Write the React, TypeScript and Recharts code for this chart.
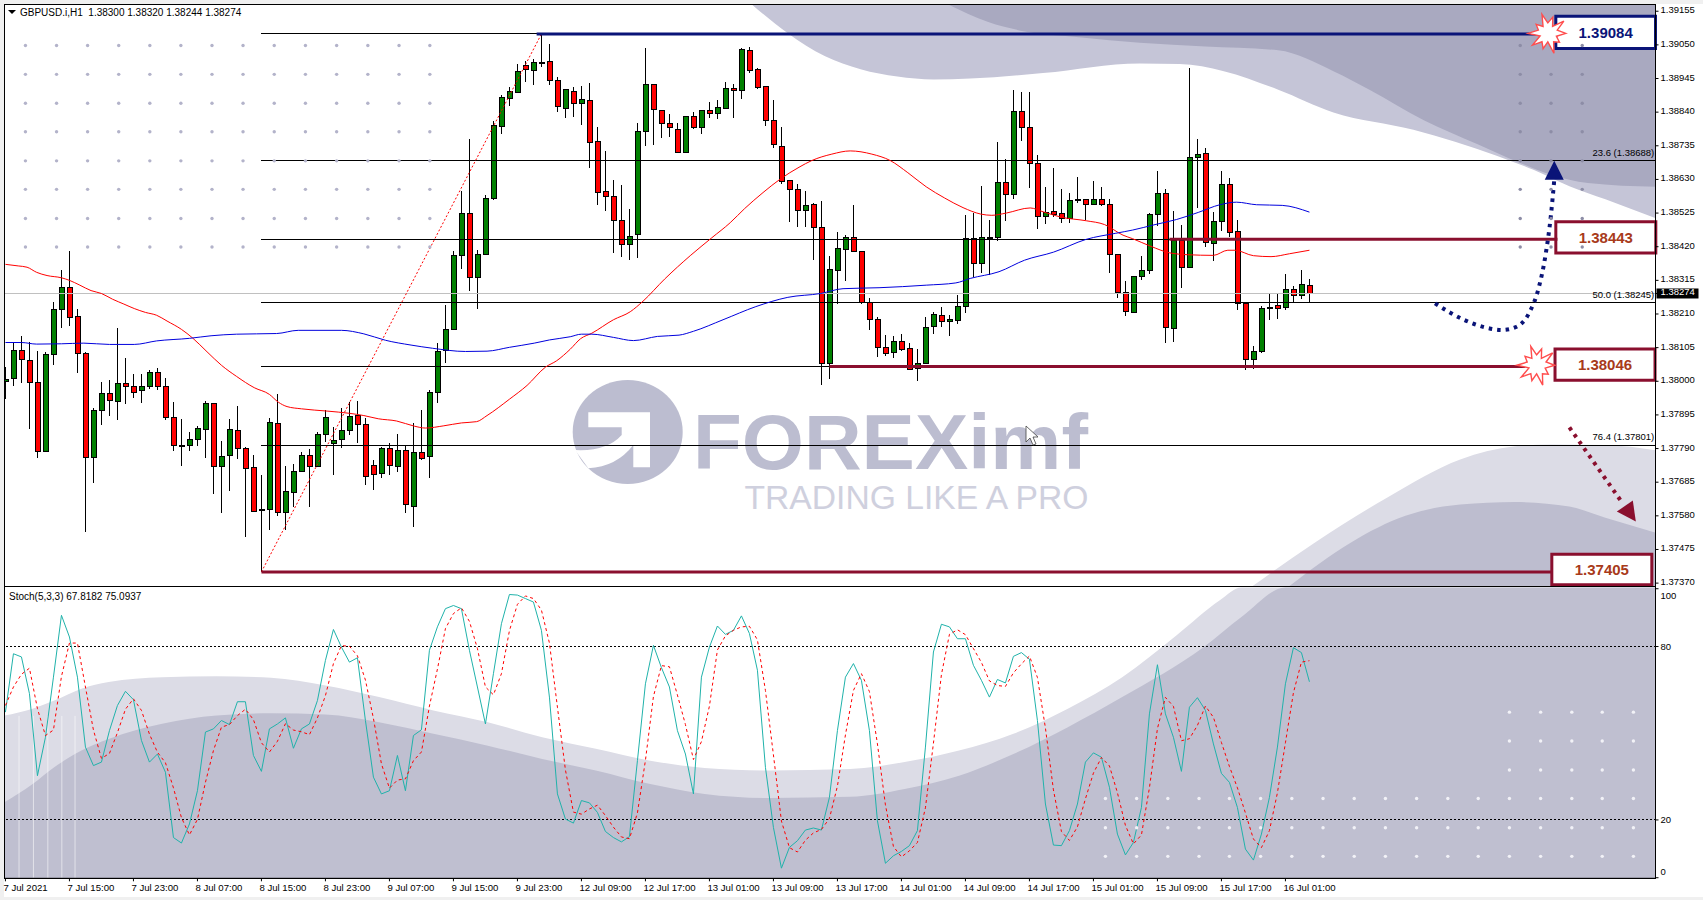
import { Area, Bar, ComposedChart, Line, ReferenceArea, ReferenceDot, ReferenceLine, XAxis, YAxis } from "recharts";

// prices are kept in points (1.38274 -> 138274)
const opens = [138000,138009,138096,138064,137996,137780,138083,138225,138293,138202,138087,137761,137909,137962,137936,137993,137983,137970,137983,138027,137983,137887,137798,137798,137817,137849,137930,137733,137767,137846,137790,137730,137597,137601,137868,137591,137654,137717,137768,137733,137833,137807,137817,137846,137893,137864,137736,137711,137789,137735,137783,137610,137777,137764,137964,138095,138163,138393,138525,138323,138396,138571,138794,138884,138902,138986,138971,138994,138997,138938,138852,138906,138868,138875,138747,138591,138578,138502,138427,138458,138780,138925,138844,138806,138787,138715,138825,138793,138846,138837,138852,138915,138908,139031,138972,138919,138815,138733,138626,138599,138533,138553,138481,138055,138347,138412,138449,138406,138246,138194,138106,138090,138124,138102,138040,138055,138172,138206,138186,138189,138233,138446,138368,138449,138450,138619,138584,138841,138793,138681,138514,138531,138525,138509,138563,138568,138552,138568,138553,138396,138277,138215,138327,138346,138519,138587,138165,138438,138355,138700,138712,138431,138500,138613,138468,138243,138067,138093,138227,138236,138229,138286,138267,138300];
const highs = [138044,138124,138141,138123,138093,138092,138247,138347,138406,138227,138090,137918,137997,138003,138166,138073,138022,138022,138035,138041,138009,137935,137881,137843,137860,137937,137930,137813,137881,137922,137794,137769,137707,137886,137959,137737,137741,137780,137790,137843,137911,137856,137918,137935,137937,137886,137754,137794,137806,137834,137797,137869,137909,137974,138121,138239,138406,138594,138757,138410,138582,138813,138895,138919,138990,139001,139007,139084,139054,138950,138910,138919,138921,138931,138794,138719,138629,138613,138539,138806,139041,138925,138847,138835,138807,138825,138839,138844,138873,138877,138935,138927,139039,139044,138979,138921,138879,138794,138629,138615,138594,138556,138562,138392,138466,138456,138551,138406,138260,138201,138144,138141,138147,138119,138100,138201,138215,138232,138206,138269,138519,138526,138611,138503,138747,138693,138910,138904,138904,138707,138607,138666,138601,138587,138639,138568,138626,138607,138568,138396,138312,138327,138392,138525,138656,138600,138531,138488,138977,138757,138729,138527,138656,138635,138502,138243,138109,138236,138272,138276,138335,138297,138347,138320];
const lows = [137944,137986,137994,137850,137761,137780,138050,138166,138174,138027,137528,137681,137862,137891,137880,137928,137947,137933,137976,137974,137880,137782,137735,137782,137797,137762,137648,137589,137657,137756,137514,137591,137405,137535,137580,137535,137607,137717,137607,137733,137809,137707,137791,137831,137806,137676,137662,137697,137707,137718,137588,137544,137754,137697,137933,138056,138161,138350,138282,138227,138395,138565,138771,138859,138902,138933,138924,138980,138926,138839,138821,138824,138801,138665,138549,138533,138401,138388,138380,138385,138733,138739,138759,138762,138712,138714,138786,138771,138821,138818,138852,138821,138880,138962,138913,138798,138729,138615,138498,138482,138483,138380,137989,138008,138242,138312,138403,138241,138160,138076,138080,138074,138095,138036,138001,138055,138147,138170,138142,138180,138212,138325,138339,138333,138439,138501,138568,138751,138603,138474,138492,138512,138494,138495,138556,138503,138552,138548,138339,138260,138203,138213,138317,138336,138486,138121,138123,138292,138352,138542,138418,138374,138469,138450,138223,138036,138039,138088,138192,138194,138222,138247,138256,138244];
const closes = [138007,138096,138068,137996,137780,138083,138225,138293,138200,138086,137761,137908,137962,137940,137993,137983,137964,137983,138028,137983,137886,137798,137798,137817,137853,137930,137733,137764,137849,137789,137729,137595,137601,137871,137591,137655,137718,137768,137733,137834,137887,137815,137846,137889,137864,137703,137708,137789,137736,137783,137615,137777,137760,137964,138093,138162,138393,138525,138323,138396,138572,138797,138885,138906,138966,138974,138994,138994,138940,138857,138910,138868,138881,138746,138589,138576,138502,138427,138453,138781,138925,138847,138806,138793,138714,138825,138793,138844,138837,138853,138914,138908,139035,138971,138918,138815,138740,138624,138599,138534,138549,138480,138056,138349,138415,138449,138406,138246,138193,138106,138086,138124,138100,138036,138055,138168,138209,138186,138193,138234,138446,138368,138449,138449,138619,138584,138841,138793,138680,138514,138527,138521,138509,138565,138568,138552,138568,138552,138395,138277,138217,138327,138346,138520,138587,138167,138438,138356,138700,138709,138433,138500,138615,138465,138243,138067,138093,138227,138229,138227,138286,138267,138302,138274];

const maRedBars = [0,1.6,2.7,3.9,5.2,7,8,9.3,10.7,12,13.4,14.8,16.1,17.5,18.9,20.2,22,23.4,25.2,27,28.9,31.1,33,34.1,35.2,37,40.2,43,44.8,46.6,48.9,51.1,52.5,54.8,57,58.9,60.2,63,65.2,67.5,68.9,70.6,71.9,73.3,76,78.1,79.7,82.4,85.6,88.3,90.6,92.4,94.7,96.9,99.2,100.8,103.3,105.6,108.3,110.6,112.8,115.1,117.4,119.7,121.9,123.3,125.1,128.1,129.7,132,135.1,137.4,139.7,140.9,143.2,145.5,147.8,151,152.8,153.7,156,158.2,160.5,163];
const maRedValues = [138365,138360,138356,138340,138330,138323,138315,138300,138283,138274,138256,138241,138227,138215,138206,138188,138162,138135,138092,138050,138015,137980,137959,137935,137921,137914,137907,137900,137893,137883,137876,137860,137854,137861,137870,137874,137893,137944,137987,138044,138064,138100,138133,138150,138192,138217,138250,138319,138392,138448,138495,138539,138589,138632,138668,138689,138709,138719,138709,138689,138651,138607,138572,138542,138522,138518,138525,138541,138529,138512,138501,138489,138456,138445,138421,138401,138395,138393,138409,138409,138392,138389,138398,138409];
const maBlueBars = [0,2,3.9,7,9.8,13,16.1,18.9,23,25.7,28.9,33.9,36.6,42,44.8,47.5,50.7,53.4,57.5,60.2,63,66.1,68,70.6,72,73.3,76,78.5,81.5,84.2,86,89.7,93.8,97.8,101.9,104.7,109.2,115.1,118.8,120.6,124.2,127.4,131,135.1,138.8,140.9,143.7,146.4,149.1,151.8,153.9,156.4,159.6,163];
const maBlueValues = [138121,138121,138116,138117,138119,138115,138115,138126,138134,138142,138147,138149,138159,138159,138148,138128,138113,138103,138093,138094,138106,138119,138129,138139,138147,138147,138137,138127,138140,138144,138156,138192,138233,138262,138274,138289,138292,138300,138307,138321,138342,138378,138403,138443,138462,138472,138489,138505,138527,138551,138559,138551,138549,138528];

const stochK = [57.3,77.5,76.4,63.7,35.3,48.6,69.4,90.8,83.3,69.4,45.2,38.8,40,50.9,59.6,64.5,61.6,47.5,40,42.8,36.5,13.9,12,18.6,30.1,50.4,51.5,54.4,53,60.9,60.9,42.3,36.8,51.5,53.2,55.3,44.8,51.5,53.2,61.3,75.2,85.9,79.8,74.6,76.1,54.4,34.8,29,30.1,42.3,30.1,49.2,51.2,78.7,86.8,93.1,94.2,93.1,78.7,66,53.2,70.6,87.9,98,97.8,96.6,95.4,85.6,62.5,29,20.3,18.9,26.7,25.9,22.6,16,13.9,12.4,14.2,40.5,67.1,80.4,72.7,66,50.9,42.8,29,69.4,79.8,87.1,84.2,85.6,90.6,84.5,71.8,38.2,17.4,3.3,10.5,12.8,16.5,17.2,16.5,27.8,50.9,69.4,74.1,68.3,50.9,19.7,5,7.6,9.1,11.1,16.3,45.2,78.1,87.7,86.8,82.7,82.7,73.5,68.3,62.5,68.6,67.4,76.6,77.9,75.6,54.4,25.5,11.3,11.1,16.3,25.5,40,43.2,41.7,31.3,15.1,7.9,12.2,24.3,56.7,73.7,56.7,48.6,36.8,59,62.3,57.9,46.3,36.1,33,24.3,9.9,6.1,15.1,27.8,45.2,67.1,79.6,77.9,67.8];
const stochD = [59.6,66,70.4,72.5,58.5,49.2,51.1,69.6,81.2,81.2,66,51.1,41.3,43,50.2,58.3,61.9,57.9,49.7,43.4,39.8,31.1,20.8,14.8,20.2,33,44,52.1,53,56.1,58.3,54.7,46.7,43.5,47.2,53.3,51.1,50.5,49.5,55.3,63,74.1,80.3,80.1,76.8,68.4,55.1,39.4,31,33.8,34.2,40.5,43.5,59.4,72.2,86.2,91.4,93.4,88.7,79.3,66,63.3,70.6,85.5,94.6,97.5,96.6,92.6,81.2,59,37.3,22.7,22,23.8,25.1,21.5,17.5,14.1,13.5,22.4,40.6,62.7,73.4,73,63.2,53,40.9,47.1,59.4,78.8,83.7,85.6,86.8,87,82.3,64.8,42.5,19.6,10.4,8.9,13,15.5,16.7,20.5,31.7,49.4,64.8,70.6,64.4,46.3,25.2,10.8,7.2,9.3,12.2,24.2,46.5,70.3,84.2,85.8,84.1,79.3,74.5,68.1,66.5,66.2,70.9,74,76.7,69.3,51.8,30.4,16,12.9,17.6,27.3,36.2,41.6,38.7,29.4,18.1,11.7,14.8,31.1,51.6,62.4,59.3,47.4,48.1,52.7,59.4,55.5,46.8,38.5,31.1,22.4,13.4,10.4,16.3,29.4,46.7,64,74.6,75.1];

const priceTicks = [139155,139050,138945,138840,138735,138630,138525,138420,138315,138274,138210,138105,138000,137895,137790,137685,137580,137475,137370];
const stochTicks = [100,80,20,0];
const timeTicks = [0,8,16,24,32,40,48,56,64,72,80,88,96,104,112,120,128,136,144,152,160];
const timeLabels = ["7 Jul 2021","7 Jul 15:00","7 Jul 23:00","8 Jul 07:00","8 Jul 15:00","8 Jul 23:00","9 Jul 07:00","9 Jul 15:00","9 Jul 23:00","12 Jul 09:00","12 Jul 17:00","13 Jul 01:00","13 Jul 09:00","13 Jul 17:00","14 Jul 01:00","14 Jul 09:00","14 Jul 17:00","15 Jul 01:00","15 Jul 09:00","15 Jul 17:00","16 Jul 01:00"];

const fibFull = [138688,138245,137801];
const fibToBox = [139084,138443,138046,137405];
const lastPrice = 138274;

// background swooshes of the template
const upperLightBars = [93.3,97.8,102.4,106.9,111.5,116,120.6,129.7,141.8,146.8,152.3,159.1,166,176,186.4,191,195.5,200,206.3];
const upperLightValues = [139176,139086,139015,138974,138951,138942,138945,138962,138992,138990,138968,138910,138839,138785,138704,138660,138609,138568,138509];
const upperDarkBars = [117.85,122.85,127.4,134.2,141.8,150,159.1,166,170.5,177.3,184.1,189.1,193.2,197.8,206.3];
const upperDarkValues = [139176,139121,139092,139074,139057,139045,139033,138968,138910,138815,138739,138684,138645,138619,138607];
const lowerLightBars = [155.9,163.7,172.8,181.85,188.7,193.2,200,206.3];
const lowerLightValues = [137361,137497,137638,137756,137797,137803,137801,137785];
const lowerDarkBars = [160.5,168.2,175,181.85,188.7,195.5,200,206.3];
const lowerDarkValues = [137361,137497,137580,137615,137623,137609,137574,137527];
const stochLightBars = [-0.13,3.4,6.1,9.5,12.9,19.6,26.4,33.2,40,46.7,53.5,60.3,67.1,73.8,80.6,87.4,95.5,105.6,112.4,119.2,126,132.8,139.6,146.4,151.8,154.5,206.3];
const stochLightValues = [56.1,58.5,61.3,65.4,67.7,69.4,69.7,69.2,66.5,62.5,57.9,53.8,48.6,44.6,40.5,38,37.1,37.6,40,44,49.8,58.5,69.4,83.9,96,100.4,100.4];
const stochDarkBars = [-0.13,3.4,6.1,9.5,12.9,19.6,26.4,33.2,40,46.7,53.5,60.3,67.1,73.8,80.6,87.4,95.5,105.6,112.4,119.2,126,132.8,139.6,149.8,154.5,160,206.3];
const stochDarkValues = [26.1,32.4,38.2,44,48,53.3,56.1,56.9,56.5,53.8,49.8,45.7,41.1,37.1,32.4,29,27.6,28,30.7,35.3,42.8,52.1,62.5,79.8,90.2,100.4,100.4];

// dot grids of the template
const dotBarsLeft = [2.5,6.39,10.27,14.16,18.05,21.93,25.82,29.7,33.6,37.5,41.4,45.3,49.2,53.05];
const dotBarsRight = [189.35,193.2,197.1];
const dotPrices = [139048,138958,138868,138779,138688,138599,138508,138419];
const stochDotBars = [137.5,141.4,145.3,149.2,153,156.9,160.8,164.7,168.6,172.5,176.4,180.3,184.1,188,191.9,195.8,199.6,203.5];
const stochDotValues = [7.4,17.3,27.4];
const stochDotBarsUpper = [188,191.9,195.8,199.6,203.5];
const stochDotValuesUpper = [37.3,47.3,57.3];
const stochStripeBars = [1.7,3.5,5.3,7.05,8.7];

// forecast arrows
const blueArrowBars = [178.7,182.3,185,187.1,188.7,190.5,191.6,192.5,193.2,193.6];
const blueArrowValues = [138243,138192,138168,138160,138168,138215,138286,138392,138521,138627];
const redArrowBars = [195.5,202.1];
const redArrowValues = [137856,137621];

const X_DOMAIN = [-0.13, 206.26];
const PRICE_TOP = 1.39176;
const PRICE_BOTTOM = 1.37361;
const FONT = "Liberation Sans";
const NAVY = "#0a1478";
const MAROON = "#8a0f2e";
const BOX_TEXT = "#a83a1a";

const pr = (v: number) => v / 100000;
const toRows = (bars: number[], values: number[], scale = 1) => bars.map((bar, i) => ({ bar, value: values[i] * scale }));
const priceRows = (bars: number[], values: number[]) => toRows(bars, values, 0.00001);
const crossRows = (bars: number[], values: number[], scale = 1) =>
  bars.flatMap((bar) => values.map((v) => ({ bar, value: v * scale })));

const candleData = opens.map((o, i) => ({
  bar: i,
  open: pr(o),
  high: pr(highs[i]),
  low: pr(lows[i]),
  close: pr(closes[i]),
}));
const stochData = stochK.map((k, i) => ({ bar: i, k, d: stochD[i] }));

function Candle(props: any) {
  const { x, y, width, height, payload } = props;
  const cx = Math.round(x + width / 2) + 0.5;
  const { open, high, low, close } = payload;
  const ratio = height / (high - low);
  const top = y + (high - Math.max(open, close)) * ratio;
  const bottom = y + (high - Math.min(open, close)) * ratio;
  const up = close >= open;
  return (
    <g shapeRendering="crispEdges">
      <line x1={cx} x2={cx} y1={y} y2={y + height} stroke="#000" />
      <rect x={cx - 2.5} y={top} width={5} height={Math.max(bottom - top, 1)} fill={up ? "#008000" : "#ff0000"} stroke="#000" />
    </g>
  );
}

function PriceTick({ x, y, payload }: any) {
  const isLast = Math.abs(payload.value - pr(lastPrice)) < 0.000001;
  return (
    <g>
      {isLast && <rect x={x - 4} y={y - 5} width={42} height={10} fill="#000" />}
      <text x={x} y={y + 2} fontSize={9.5} fontFamily={FONT} fill={isLast ? "#fff" : "#000"} textAnchor="start">
        {payload.value.toFixed(5)}
      </text>
    </g>
  );
}

function StochTick({ x, y, payload }: any) {
  // the terminal pulls the two end labels inside the panel
  const nudge = payload.value === 100 ? 7 : payload.value === 0 ? -6 : 0;
  return (
    <text x={x} y={y + 3 + nudge} fontSize={9.5} fontFamily={FONT} fill="#000" textAnchor="start">
      {payload.value}
    </text>
  );
}

function TimeTick({ x, y, payload }: any) {
  return (
    <text x={x - 2} y={y + 8} fontSize={9.6} fontFamily={FONT} fill="#000" textAnchor="start">
      {timeLabels[timeTicks.indexOf(payload.value)]}
    </text>
  );
}

const starRadii = [1, 0.5, 0.8, 0.55, 1.1, 0.45, 0.85, 0.55, 1.05, 0.45, 1.1, 0.55, 0.8, 0.45, 1.05, 0.55, 0.9, 0.45, 1.1, 0.55];

function Star({ cx, cy }: any) {
  const pts = starRadii
    .map((r, i) => {
      const a = (i / starRadii.length) * Math.PI * 2;
      return `${cx + Math.cos(a) * r * 18},${cy + Math.sin(a) * r * 19}`;
    })
    .join(" ");
  return <polygon points={pts} fill="#fff" stroke="#ff4d4d" strokeWidth={1.4} />;
}

function NavyHead({ cx, cy }: any) {
  return <polygon points={`${cx},${cy} ${cx - 9.5},${cy + 19} ${cx + 9.5},${cy + 19}`} fill={NAVY} />;
}

function MaroonHead({ cx, cy }: any) {
  return <polygon points={`${cx},${cy} ${cx - 19},${cy - 10} ${cx - 3},${cy - 21}`} fill={MAROON} />;
}

const fibLabel = (text: string) =>
  function FibLabel({ cx, cy }: any) {
    return (
      <text x={cx} y={cy} fontSize={9.5} fontFamily={FONT} fill="#000" textAnchor="end">
        {text}
      </text>
    );
  };

const boxLabel = (value: string, fill: string) => ({
  value,
  position: "center" as const,
  fill,
  fontSize: 15,
  fontWeight: 700,
  fontFamily: FONT,
});

export default function App() {
  return (
    <div style={{ position: "absolute", left: 0, top: 0, width: 1703, height: 900, background: "#f0f0f0", overflow: "hidden" }}>
      <svg width={1703} height={900} style={{ position: "absolute", left: 0, top: 0 }}>
        <rect x={4} y={4} width={1699} height={893} fill="#fff" />
        <ellipse cx={627.7} cy={432} rx={55} ry={52} fill="#bcbdd0" />
        <path d="M588.3 412.3 H650 V467.3 H633.3 V445 Q616.7 466.7 588.3 468.3 L575 450 Q606.7 451.7 621.7 435 V427.3 H588.3 Z" fill="#fff" />
        <text x={693} y={469} fontSize={78} fontWeight={700} fontFamily={FONT} fill="#bcbdd0" textLength={395} lengthAdjust="spacingAndGlyphs">
          FOREXimf
        </text>
        <text x={744.5} y={509} fontSize={33} fontFamily={FONT} fill="#cfd0de" textLength={344} lengthAdjust="spacingAndGlyphs">
          TRADING LIKE A PRO
        </text>
      </svg>

      <div style={{ position: "absolute", left: 0, top: 0 }}>
        <ComposedChart width={1703} height={600} data={candleData} margin={{ top: 4.5, right: 0, bottom: 14, left: 4.4 }}>
          <XAxis dataKey="bar" type="number" domain={X_DOMAIN} allowDataOverflow hide />
          <YAxis
            orientation="right"
            width={47.5}
            domain={[PRICE_BOTTOM, PRICE_TOP]}
            allowDataOverflow
            ticks={priceTicks.map(pr)}
            interval={0}
            tick={PriceTick}
            tickSize={3}
            tickMargin={2}
            stroke="#000"
          />
          <Area data={priceRows(upperLightBars, upperLightValues)} dataKey={(r: any) => [r.value, PRICE_TOP]} type="monotone" stroke="none" fill="#c5c5d7" fillOpacity={1} isAnimationActive={false} />
          <Area data={priceRows(upperDarkBars, upperDarkValues)} dataKey={(r: any) => [r.value, PRICE_TOP]} type="monotone" stroke="none" fill="#a9a9c0" fillOpacity={1} isAnimationActive={false} />
          <Area data={priceRows(lowerLightBars, lowerLightValues)} dataKey={(r: any) => [PRICE_BOTTOM, r.value]} type="monotone" stroke="none" fill="#dcdce6" fillOpacity={1} isAnimationActive={false} />
          <Area data={priceRows(lowerDarkBars, lowerDarkValues)} dataKey={(r: any) => [PRICE_BOTTOM, r.value]} type="monotone" stroke="none" fill="#bdbdcf" fillOpacity={1} isAnimationActive={false} />

          <Line data={crossRows(dotBarsLeft, dotPrices, 0.00001)} dataKey="value" stroke="none" dot={{ r: 1.7, fill: "#b3b3ca", stroke: "none" }} isAnimationActive={false} />
          <Line data={crossRows(dotBarsRight, dotPrices, 0.00001)} dataKey="value" stroke="none" dot={{ r: 1.7, fill: "#8d8da6", stroke: "none" }} isAnimationActive={false} />

          <ReferenceLine y={pr(lastPrice)} stroke="#c0c0c0" shapeRendering="crispEdges" />
          {fibFull.map((p) => (
            <ReferenceLine key={p} segment={[{ x: 32, y: pr(p) }, { x: 206.26, y: pr(p) }]} stroke="#000" shapeRendering="crispEdges" />
          ))}
          {fibToBox.map((p) => (
            <ReferenceLine key={p} segment={[{ x: 32, y: pr(p) }, { x: 190, y: pr(p) }]} stroke="#000" shapeRendering="crispEdges" />
          ))}
          <ReferenceLine segment={[{ x: 32, y: pr(137405) }, { x: 67, y: pr(139084) }]} stroke="#ff0000" strokeDasharray="2 2" />

          <Bar dataKey={(r: any) => [r.low, r.high]} barSize={5} shape={Candle} isAnimationActive={false} />

          <Line data={priceRows(maRedBars, maRedValues)} dataKey="value" type="monotone" stroke="#ff0000" strokeWidth={1} dot={false} isAnimationActive={false} />
          <Line data={priceRows(maBlueBars, maBlueValues)} dataKey="value" type="monotone" stroke="#0000dd" strokeWidth={1} dot={false} isAnimationActive={false} />

          <ReferenceLine segment={[{ x: 66.4, y: pr(139084) }, { x: 194, y: pr(139084) }]} stroke={NAVY} strokeWidth={3} />
          <ReferenceLine segment={[{ x: 145.5, y: pr(138443) }, { x: 194, y: pr(138443) }]} stroke={MAROON} strokeWidth={3} />
          <ReferenceLine segment={[{ x: 103, y: pr(138046) }, { x: 190, y: pr(138046) }]} stroke={MAROON} strokeWidth={3} />
          <ReferenceLine segment={[{ x: 32, y: pr(137405) }, { x: 193.2, y: pr(137405) }]} stroke={MAROON} strokeWidth={3} />

          <Line data={priceRows(blueArrowBars, blueArrowValues)} dataKey="value" type="monotone" stroke={NAVY} strokeWidth={4} strokeDasharray="3.5 5" dot={false} isAnimationActive={false} />
          <Line data={priceRows(redArrowBars, redArrowValues)} dataKey="value" stroke={MAROON} strokeWidth={4} strokeDasharray="3.5 5" dot={false} isAnimationActive={false} />
          <ReferenceDot x={193.6} y={pr(138688)} ifOverflow="visible" shape={NavyHead} />
          <ReferenceDot x={203.8} y={pr(137562)} ifOverflow="visible" shape={MaroonHead} />

          <ReferenceArea x1={193.8} x2={206.26} y1={pr(139039)} y2={pr(139139)} ifOverflow="visible" fill="#fff" fillOpacity={1} stroke={NAVY} strokeWidth={3} label={boxLabel("1.39084", NAVY)} />
          <ReferenceArea x1={193.8} x2={206.3} y1={pr(138400)} y2={pr(138498)} ifOverflow="visible" fill="#fff" fillOpacity={1} stroke={MAROON} strokeWidth={3} label={boxLabel("1.38443", BOX_TEXT)} />
          <ReferenceArea x1={193.7} x2={206.2} y1={pr(138003)} y2={pr(138101)} ifOverflow="visible" fill="#fff" fillOpacity={1} stroke={MAROON} strokeWidth={3} label={boxLabel("1.38046", BOX_TEXT)} />
          <ReferenceArea x1={193.3} x2={205.8} y1={pr(137365)} y2={pr(137460)} ifOverflow="visible" fill="#fff" fillOpacity={1} stroke={MAROON} strokeWidth={3} label={boxLabel("1.37405", BOX_TEXT)} />

          <ReferenceDot x={192.8} y={pr(139086)} ifOverflow="visible" shape={Star} />
          <ReferenceDot x={191.4} y={pr(138050)} ifOverflow="visible" shape={Star} />

          <ReferenceDot x={206.1} y={pr(138704)} ifOverflow="visible" shape={fibLabel("23.6 (1.38688)")} />
          <ReferenceDot x={206.1} y={pr(138260)} ifOverflow="visible" shape={fibLabel("50.0 (1.38245)")} />
          <ReferenceDot x={206.1} y={pr(137816)} ifOverflow="visible" shape={fibLabel("76.4 (1.37801)")} />
        </ComposedChart>
      </div>

      <div style={{ position: "absolute", left: 0, top: 580 }}>
        <ComposedChart width={1703} height={320} data={stochData} margin={{ top: 6.7, right: 0, bottom: 0, left: 4.4 }}>
          <XAxis
            dataKey="bar"
            type="number"
            domain={X_DOMAIN}
            allowDataOverflow
            ticks={timeTicks}
            interval={0}
            height={21.7}
            tick={TimeTick}
            tickSize={3}
            stroke="#000"
          />
          <YAxis
            orientation="right"
            width={47.5}
            domain={[-0.2, 100.7]}
            allowDataOverflow
            ticks={stochTicks}
            interval={0}
            tick={StochTick}
            tickSize={3}
            tickMargin={2}
            stroke="#000"
          />
          <Area data={toRows(stochLightBars, stochLightValues)} dataKey={(r: any) => [-0.2, r.value]} type="monotone" stroke="none" fill="#dcdce6" fillOpacity={1} isAnimationActive={false} />
          <Area data={toRows(stochDarkBars, stochDarkValues)} dataKey={(r: any) => [-0.2, r.value]} type="monotone" stroke="none" fill="#bfbfd0" fillOpacity={1} isAnimationActive={false} />
          {stochStripeBars.map((b) => (
            <ReferenceLine key={b} segment={[{ x: b, y: 0 }, { x: b, y: 56 }]} stroke="#fff" strokeOpacity={0.55} />
          ))}
          <Line data={crossRows(stochDotBars, stochDotValues)} dataKey="value" stroke="none" dot={{ r: 1.7, fill: "#f2f2f7", stroke: "none" }} isAnimationActive={false} />
          <Line data={crossRows(stochDotBarsUpper, stochDotValuesUpper)} dataKey="value" stroke="none" dot={{ r: 1.7, fill: "#f2f2f7", stroke: "none" }} isAnimationActive={false} />
          <ReferenceLine y={80} stroke="#000" strokeDasharray="2 2" shapeRendering="crispEdges" />
          <ReferenceLine y={20} stroke="#000" strokeDasharray="2 2" shapeRendering="crispEdges" />
          <Line dataKey="k" stroke="#20b2aa" strokeWidth={1} dot={false} isAnimationActive={false} />
          <Line dataKey="d" stroke="#ff0000" strokeWidth={1} strokeDasharray="3 3" dot={false} isAnimationActive={false} />
        </ComposedChart>
      </div>

      <svg width={1703} height={900} style={{ position: "absolute", left: 0, top: 0, pointerEvents: "none" }}>
        <g shapeRendering="crispEdges" fill="none" stroke="#000">
          <rect x={4.5} y={4.5} width={1651} height={582} />
          <rect x={4.5} y={586.5} width={1651} height={292} />
        </g>
        <polygon points="8,10 16,10 12,14" fill="#000" />
        <text x={20} y={16} fontSize={10} fontFamily={FONT} fill="#000" xmlSpace="preserve">
          GBPUSD.i,H1  1.38300 1.38320 1.38244 1.38274
        </text>
        <text x={9} y={600} fontSize={10} fontFamily={FONT} fill="#000">
          Stoch(5,3,3) 67.8182 75.0937
        </text>
        <polygon points="1026,426 1026,442 1030,438 1033,445 1036,444 1033,437 1038,437" fill="#fff" stroke="#444" strokeWidth={0.8} />
      </svg>
    </div>
  );
}
